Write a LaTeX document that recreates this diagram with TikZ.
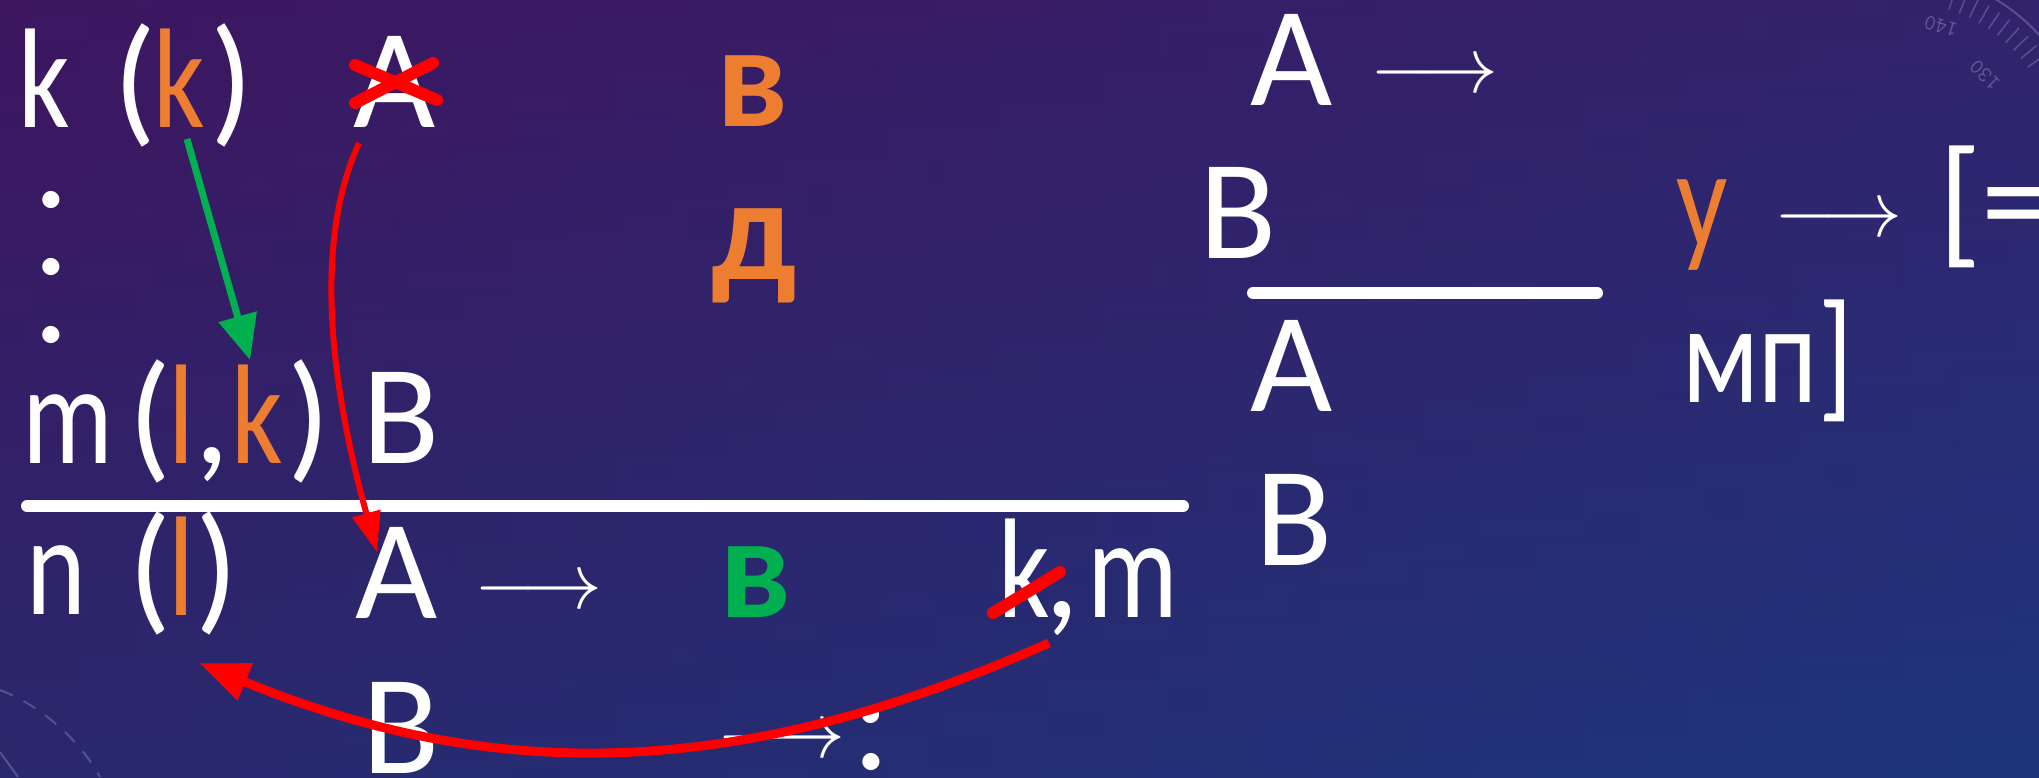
\RequirePackage{fix-cm}
\documentclass[tikz,border=0pt]{standalone}
\usepackage{fontspec}
\setmainfont{Carlito}
\newfontfamily\lcf{Carlito}[FakeStretch=0.8]
\usetikzlibrary{arrows.meta,calc}
\definecolor{bgA}{HTML}{3E1660}
\definecolor{bgB}{HTML}{1F3276}
\definecolor{bgC}{HTML}{1C3C86}
\definecolor{orangeC}{HTML}{ED7D31}
\definecolor{greenC}{HTML}{00B050}
\definecolor{redC}{HTML}{FF0000}
\tikzset{
  txt/.style={inner sep=0pt, outer sep=0pt, anchor=base west, text=white,
              font=\fontsize{142}{150}\selectfont},
  lc/.style={txt, font=\fontsize{142}{150}\selectfont\lcf},
  hl/.style={txt, font=\fontsize{146}{150}\selectfont\bfseries},
  dotc/.style={txt, text height=20pt, text depth=0pt},
  orng/.style={text=orangeC},
  grn/.style={text=greenC},
  arr/.style={txt, font=\fontsize{80}{90}\selectfont},
  rule/.style={white, line width=12pt, line cap=round},
  cross/.style={redC, line width=12pt, line cap=round},
  garrow/.style={greenC, line width=7pt, -{Triangle[length=45pt,width=38pt]}},
  rarrow/.style={redC, line width=6pt, -{Triangle[length=40pt,width=28pt]}},
  rarrowb/.style={redC, line width=9pt, -{Triangle[length=50pt,width=38pt]}},
  deco/.style={white, opacity=0.2, line width=2pt},
  decotxt/.style={text=white, opacity=0.25, inner sep=0pt, font=\fontsize{22}{24}\selectfont\ttfamily}
}
\begin{document}
\begin{tikzpicture}[x=1pt,y=-1pt]
% background
\useasboundingbox (0,0) rectangle (2039,777);
\shade[top color=bgA, bottom color=bgB] (0,0) rectangle (2039,777);
\shade[left color=bgA, right color=bgC, opacity=0.35] (0,0) rectangle (2039,777);
% faint decorations (protractor top right, dashed arc bottom left)
\coordinate (pc) at (1900,160);
\draw[deco] ($(pc)+(-75:187)$) arc[start angle=-75, end angle=-15, radius=187];
\foreach \a in {36,40,...,72} {
  \draw[deco, line width=1.5pt] ($(pc)+(-\a:158)$) -- ($(pc)+(-\a:178)$);
}
\node[decotxt, rotate=163] (p140) at ($(pc)+(-73:140)$) {140};
\node[decotxt, rotate=135] (p130) at ($(pc)+(-45:120)$) {130};
\draw[deco, dash pattern=on 14pt off 12pt] (0,690) .. controls (40,705) and (80,740) .. (100,777);
\draw[deco] (0,752) -- (18,777);

% row 1
\node[lc] (k1) at (18,127) {k};
\node[txt] (p1) at (113,127) {(};
\node[lc,orng] (ko) at (153,127) {k};
\node[txt] (p2) at (210,127) {)};
\node[txt] (A1) at (353,127) {A};
\node[hl,orng] (v1) at (716,126) {в};
% dots
\node[dotc] (d1) at (33,207) {.};
\node[dotc] (d2) at (33,274) {.};
\node[dotc] (d3) at (33,342) {.};
\node[hl,orng] (d) at (711,279) {д};
% row m
\node[lc] (m1) at (22,463) {m};
\node[txt] (p3) at (128,463) {(};
\node[lc,orng] (l1) at (168,463) {l};
\node[txt] (c1) at (194,463) {,};
\node[lc,orng] (ok2) at (231,463) {k};
\node[txt] (p4) at (287,463) {)};
\node[txt] (B1) at (362,463) {B};
\draw[rule] (27,506) -- (1183,506);
% row n
\node[lc] (n1) at (26,614) {n};
\node[txt] (p5) at (128,615) {(};
\node[lc,orng] (l2) at (168,615) {l};
\node[txt] (p6) at (195,615) {)};
\node[txt] (A2) at (355,618) {A};
\node[arr] (ar1) at (474,608) {$\longrightarrow$};
\node[hl,grn] (v2) at (719,617) {в};
\node[lc] (k3) at (998,617) {k};
\node[txt] (c2) at (1044,617) {,};
\node[lc] (m2) at (1087,617) {m};
% bottom row
\node[txt] (B2) at (362,773) {B};
\node[arr] (ar2) at (717,757) {$\longrightarrow$};
\node[txt] (col) at (852,769) {:};
% right block
\node[txt] (A3) at (1250,105) {A};
\node[arr] (ar3) at (1370,92) {$\longrightarrow$};
\node[txt] (B3) at (1199,258) {B};
\draw[rule] (1253,293) -- (1597,293);
\node[txt] (A4) at (1250,411) {A};
\node[txt] (B4) at (1255,565) {B};
\node[lc,orng] (u) at (1676,247) {у};
\node[arr] (ar4) at (1774,236) {$\longrightarrow$};
\node[txt] (br) at (1938,248) {[=};
\node[lc] (mp) at (1682,402) {мп]};

% crossings
\draw[cross] (355,65) -- (437,100);
\draw[cross] (355,103) -- (433,63);
\draw[cross] (993,613) -- (1060,572);

% connectors
\coordinate (gS) at (187,139);
\coordinate (gE) at (250,360);
\draw[garrow] (gS) -- (gE);
\coordinate (rS) at (359,143);
\coordinate (rE) at (377,552);
\draw[rarrow] (rS) .. controls (310,250) and (335,400) .. (rE);
\coordinate (bS) at (1049,643);
\coordinate (bE) at (199,663);
\draw[rarrowb] (bS) .. controls (752,775) and (505,789) .. (bE);
\end{tikzpicture}
\end{document}
